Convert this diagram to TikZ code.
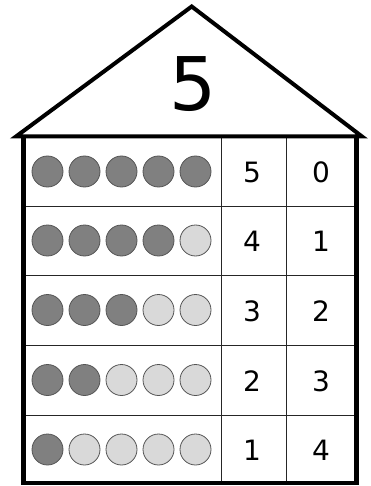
\documentclass[tikz,border=0pt]{standalone}
\usepackage{fontspec}
\setmainfont{DejaVu Sans}
\usepackage{xcolor}
\definecolor{dotDark}{RGB}{128, 128, 128}
\definecolor{dotLight}{RGB}{217, 217, 217}
\definecolor{dotEdge}{RGB}{85, 85, 85}
\usetikzlibrary{positioning}

\begin{document}
\begin{tikzpicture}[
    x=1pt, y=-1pt,
    roofLine/.style={
        line width=4pt, line join=miter, draw=black
    },
    wallLine/.style={
        line width=4.5pt, line join=miter, draw=black
    },
    gridLine/.style={
        line width=0.9pt, draw=black!85
    },
    dotFull/.style={
        circle,
        draw=dotEdge, line width=0.8pt,
        fill=dotDark, minimum size=31pt, inner sep=0pt
    },
    dotEmpty/.style={
        dotFull, fill=dotLight
    },
    cellNum/.style={
        font=\fontsize{28}{28}\selectfont, inner sep=0pt
    },
    titleNum/.style={
        font=\fontsize{74}{74}\selectfont, inner sep=0pt
    }
]
    \useasboundingbox (0,0) rectangle (370,486);

    % Roof
    \coordinate (roofLeft) at (16,136.5);
    \coordinate (roofTop) at (191.7,6.5);
    \coordinate (roofRight) at (362,136.5);
    \node[titleNum] (houseNum) at (193.5,84) {5};

    % Grid
    \coordinate (gridTL) at (23.5,136.5);
    \coordinate (gridBR) at (356.5,483);
    \foreach \yline [count=\i] in {206, 275, 345, 415} {
        \draw[gridLine] (23.5,\yline) coordinate (rowL\i) -- (356.5,\yline) coordinate (rowR\i);
    }
    \draw[gridLine] (221.5,136.5) coordinate (colA) -- (221.5,483) coordinate (colAend);
    \draw[gridLine] (286.5,136.5) coordinate (colB) -- (286.5,483) coordinate (colBend);

    % Walls and roof outline
    \draw[wallLine] (gridTL) -- (gridTL |- gridBR) -- (gridBR) -- (gridBR |- gridTL);
    \draw[roofLine] (roofLeft) -- (roofTop) -- (roofRight) -- cycle;

    % Rows of dots and the two counts
    \foreach \row/\ypos/\dark/\light in {1/171.5/5/0, 2/240.5/4/1, 3/310/3/2, 4/380/2/3, 5/449.5/1/4} {
        \foreach \col/\xpos in {1/47.5, 2/84.5, 3/121.5, 4/158.5, 5/195.5} {
            \ifnum\col>\dark
                \node[dotEmpty] (dot\row-\col) at (\xpos,\ypos) {};
            \else
                \node[dotFull] (dot\row-\col) at (\xpos,\ypos) {};
            \fi
        }
        \node[cellNum] (numDark\row) at (252,\ypos+1) {\dark};
        \node[cellNum] (numLight\row) at (321,\ypos+1) {\light};
    }

\end{tikzpicture}
\end{document}
